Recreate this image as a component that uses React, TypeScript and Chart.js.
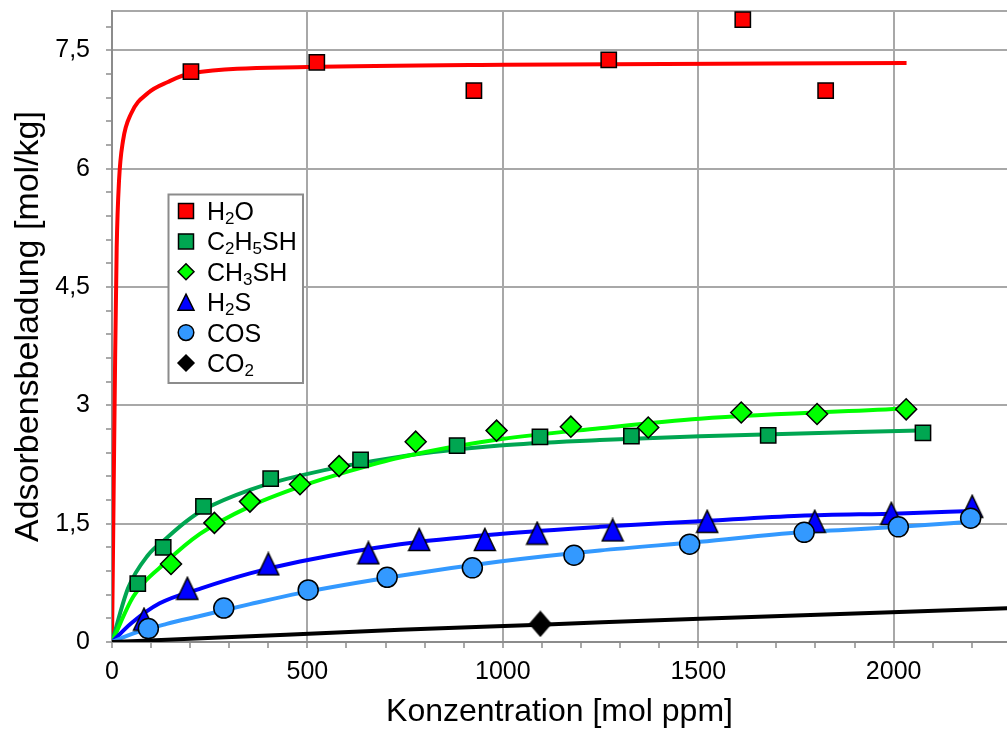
import React, { useEffect, useRef } from 'react';
import { Chart, registerables } from 'chart.js';

Chart.register(...registerables);

const FONT = '"Liberation Sans", Arial, Helvetica, sans-serif';

// ---------- data ----------
const SERIES_LABELS = ['H2O', 'C2H5SH', 'CH3SH', 'H2S', 'COS', 'CO2'];
const SERIES_COLORS = ['#FF0000', '#00A651', '#00FF00', '#0000FF', '#3399FF', '#000000'];
const FIT_COLORS = ['#FF0000', '#00A651', '#00FF00', '#0000FF', '#3399FF', '#000000'];
const SERIES_MARKERS = ['rect', 'rect', 'rectRot', 'triangle', 'circle', 'rectRot'];
const SERIES_RADII = [10.8, 10.8, 10.5, 12.5, 10, 11.5];

// measured points
const H2O_X = [202, 524, 926, 1271, 1614, 1826];
const H2O_Y = [7.23, 7.35, 6.99, 7.38, 7.89, 6.99];
const C2H5SH_X = [66, 131, 234, 406, 636, 883, 1095, 1329, 1679, 2075];
const C2H5SH_Y = [0.74, 1.2, 1.72, 2.07, 2.31, 2.49, 2.6, 2.61, 2.62, 2.65];
const CH3SH_X = [151, 262, 353, 481, 581, 777, 984, 1174, 1372, 1610, 1804, 2032];
const CH3SH_Y = [0.99, 1.51, 1.78, 2.0, 2.23, 2.54, 2.68, 2.73, 2.72, 2.91, 2.89, 2.95];
const H2S_X = [82, 193, 400, 656, 786, 954, 1088, 1281, 1523, 1798, 1994, 2201];
const H2S_Y = [0.29, 0.68, 0.99, 1.13, 1.3, 1.3, 1.38, 1.42, 1.53, 1.53, 1.63, 1.72];
const COS_X = [93, 286, 502, 704, 922, 1182, 1478, 1771, 2012, 2197];
const COS_Y = [0.17, 0.43, 0.66, 0.82, 0.94, 1.1, 1.24, 1.39, 1.46, 1.57];
const CO2_X = [1096];
const CO2_Y = [0.23];

// fitted curves
const H2O_FIT_X = [0, 4, 8, 12, 18, 28, 49, 92, 143, 202, 500, 1005, 2033];
const H2O_FIT_Y = [0, 1.8, 3.6, 5.0, 5.85, 6.35, 6.7, 6.96, 7.1, 7.21, 7.29, 7.32, 7.34];
const C2H5SH_FIT_X = [0, 41, 92, 140, 190, 235, 353, 481, 737, 992, 1248, 1504, 2066];
const C2H5SH_FIT_Y = [0, 0.68, 1.1, 1.32, 1.53, 1.68, 1.93, 2.11, 2.35, 2.49, 2.56, 2.61, 2.68];
const CH3SH_FIT_X = [0, 55, 140, 225, 353, 481, 609, 737, 992, 1248, 1504, 2032];
const CH3SH_FIT_Y = [0, 0.58, 1.02, 1.37, 1.72, 1.97, 2.17, 2.34, 2.57, 2.71, 2.83, 2.96];
const H2S_FIT_X = [0, 50, 122, 228, 353, 481, 737, 992, 1248, 1504, 1760, 2015, 2202];
const H2S_FIT_Y = [0, 0.24, 0.49, 0.68, 0.87, 1.02, 1.24, 1.37, 1.46, 1.53, 1.6, 1.63, 1.66];
const COS_FIT_X = [0, 55, 140, 225, 353, 481, 737, 992, 1248, 1504, 1760, 2015, 2211];
const COS_FIT_Y = [0, 0.11, 0.23, 0.33, 0.48, 0.62, 0.84, 1.02, 1.16, 1.27, 1.39, 1.46, 1.53];
const CO2_FIT_X = [0, 245, 737, 1096, 1504, 2300];
const CO2_FIT_Y = [0, 0.05, 0.155, 0.22, 0.295, 0.43];

const X_TICKS = [0, 100, 200, 300, 400, 500, 600, 700, 800, 900, 1000, 1100, 1200, 1300, 1400, 1500, 1600, 1700, 1800, 1900, 2000, 2100, 2200];
const X_LABELS = [0, 500, 1000, 1500, 2000];
const Y_TICKS = [0, 0.3, 0.6, 0.9, 1.2, 1.5, 1.8, 2.1, 2.4, 2.7, 3, 3.3, 3.6, 3.9, 4.2, 4.5, 4.8, 5.1, 5.4, 5.7, 6, 6.3, 6.6, 6.9, 7.2, 7.5, 7.8, 8];
const Y_LABELS = [0, 1.5, 3, 4.5, 6, 7.5];

const X_MIN = 0;
const X_MAX = 2290;
const Y_MIN = 0;
const Y_MAX = 8;

const X_TITLE = 'Konzentration [mol ppm]';
const Y_TITLE = 'Adsorbensbeladung [mol/kg]';

const GRID = '#A8A8A8';
const AXIS = '#8C8C8C';

// ---------- helpers ----------
const pts = (xs: number[], ys: number[]) => xs.map((x, i) => ({ x, y: ys[i] }));

function makeTriangle(w: number, h: number, fill: string) {
  const c = document.createElement('canvas');
  c.width = w + 3;
  c.height = h + 3;
  const g = c.getContext('2d')!;
  g.beginPath();
  g.moveTo(c.width / 2, 1.5);
  g.lineTo(w + 1.5, h + 1.5);
  g.lineTo(1.5, h + 1.5);
  g.closePath();
  g.fillStyle = fill;
  g.fill();
  g.lineWidth = 1.5;
  g.strokeStyle = '#000';
  g.stroke();
  return c;
}

function makeDiamond(w: number, h: number, fill: string) {
  const c = document.createElement('canvas');
  c.width = w + 3;
  c.height = h + 3;
  const g = c.getContext('2d')!;
  g.beginPath();
  g.moveTo(1.5, c.height / 2);
  g.lineTo(c.width / 2, 1.5);
  g.lineTo(w + 1.5, c.height / 2);
  g.lineTo(c.width / 2, h + 1.5);
  g.closePath();
  g.fillStyle = fill;
  g.fill();
  g.lineWidth = 1.5;
  g.strokeStyle = '#000';
  g.stroke();
  return c;
}

function drawMarker(ctx: CanvasRenderingContext2D, style: string, x: number, y: number, r: number, fill: string) {
  ctx.beginPath();
  if (style === 'rect') {
    ctx.rect(x - r, y - r, 2 * r, 2 * r);
  } else if (style === 'rectRot') {
    ctx.moveTo(x - r, y);
    ctx.lineTo(x, y - r);
    ctx.lineTo(x + r, y);
    ctx.lineTo(x, y + r);
    ctx.closePath();
  } else if (style === 'triangle') {
    ctx.moveTo(x, y - r);
    ctx.lineTo(x + r, y + r);
    ctx.lineTo(x - r, y + r);
    ctx.closePath();
  } else {
    ctx.arc(x, y, r, 0, Math.PI * 2);
  }
  ctx.fillStyle = fill;
  ctx.fill();
  ctx.lineWidth = 1.5;
  ctx.strokeStyle = '#000';
  ctx.stroke();
}

function drawFormula(ctx: CanvasRenderingContext2D, text: string, x: number, baseline: number) {
  const parts = text.split(/(\d+)/).filter((p) => p.length > 0);
  let cx = x;
  ctx.fillStyle = '#000';
  ctx.textAlign = 'left';
  ctx.textBaseline = 'alphabetic';
  for (const p of parts) {
    const sub = /^\d+$/.test(p);
    ctx.font = sub ? `17px ${FONT}` : `25px ${FONT}`;
    ctx.fillText(p, cx, sub ? baseline + 4 : baseline);
    cx += ctx.measureText(p).width;
  }
}

const legendPlugin = {
  id: 'formulaLegend',
  afterDraw(chart: any) {
    const ctx: CanvasRenderingContext2D = chart.ctx;
    ctx.save();
    const bx = 168.5, by = 194.5, bw = 134.5, bh = 188.5;
    ctx.fillStyle = '#FFFFFF';
    ctx.fillRect(bx, by, bw, bh);
    ctx.lineWidth = 2;
    ctx.strokeStyle = AXIS;
    ctx.strokeRect(bx, by, bw, bh);
    const legendR = [7.5, 7.5, 8, 8, 7.8, 8];
    SERIES_LABELS.forEach((label, i) => {
      const cy = 211 + i * 30.4;
      drawMarker(ctx, SERIES_MARKERS[i], 186, cy, legendR[i], SERIES_COLORS[i]);
      drawFormula(ctx, label, 207, cy + 9);
    });
    ctx.restore();
  },
};

export default function App() {
  const ref = useRef<HTMLCanvasElement>(null);

  useEffect(() => {
    document.body.style.margin = '0';
    const canvas = ref.current;
    if (!canvas) return;

    const markerData = [
      pts(H2O_X, H2O_Y),
      pts(C2H5SH_X, C2H5SH_Y),
      pts(CH3SH_X, CH3SH_Y),
      pts(H2S_X, H2S_Y),
      pts(COS_X, COS_Y),
      pts(CO2_X, CO2_Y),
    ];
    const fitData = [
      pts(H2O_FIT_X, H2O_FIT_Y),
      pts(C2H5SH_FIT_X, C2H5SH_FIT_Y),
      pts(CH3SH_FIT_X, CH3SH_FIT_Y),
      pts(H2S_FIT_X, H2S_FIT_Y),
      pts(COS_FIT_X, COS_FIT_Y),
      pts(CO2_FIT_X, CO2_FIT_Y),
    ];

    const pointStyles: any[] = [
      'rect',
      'rect',
      'rectRot',
      makeTriangle(21, 22, SERIES_COLORS[3]),
      'circle',
      makeDiamond(21, 24, SERIES_COLORS[5]),
    ];

    const fitSets = fitData.map((d, i) => ({
      label: SERIES_LABELS[i] + ' fit',
      data: d,
      borderColor: FIT_COLORS[i],
      backgroundColor: FIT_COLORS[i],
      borderWidth: 4,
      pointRadius: 0,
      fill: false,
      cubicInterpolationMode: 'monotone' as const,
      order: 20 - i,
    }));

    const markerSets = markerData.map((d, i) => ({
      label: SERIES_LABELS[i],
      data: d,
      showLine: false,
      pointStyle: pointStyles[i],
      pointRadius: SERIES_RADII[i],
      pointBackgroundColor: SERIES_COLORS[i],
      pointBorderColor: '#000000',
      pointBorderWidth: 1.5,
      borderColor: SERIES_COLORS[i],
      backgroundColor: SERIES_COLORS[i],
      clip: false as const,
      order: 6 - i,
    }));

    const isLabel = (arr: number[], v: number) => arr.some((a) => Math.abs(a - v) < 1e-9);

    const chart = new Chart(canvas, {
      type: 'line',
      data: { datasets: [...fitSets, ...markerSets] as any },
      options: {
        animation: false,
        responsive: false,
        devicePixelRatio: 1,
        events: [],
        layout: { autoPadding: false, padding: { top: 11, right: 0, bottom: 0, left: 0 } },
        plugins: {
          legend: { display: false },
          tooltip: { enabled: false },
        },
        scales: {
          x: {
            type: 'linear',
            position: 'bottom',
            min: X_MIN,
            max: X_MAX,
            afterBuildTicks: (scale: any) => {
              scale.ticks = X_TICKS.map((v) => ({ value: v }));
            },
            afterFit: (scale: any) => {
              scale.height = 89;
              scale.paddingLeft = 0;
              scale.paddingRight = 0;
            },
            ticks: {
              autoSkip: false,
              maxRotation: 0,
              minRotation: 0,
              padding: 9,
              color: '#000',
              font: { family: FONT, size: 25 },
              callback: (v: any) => (isLabel(X_LABELS, Number(v)) ? String(v) : ''),
            },
            grid: {
              color: (c: any) => {
                const v = c.tick ? c.tick.value : undefined;
                return v !== undefined && v !== 0 && isLabel(X_LABELS, v) ? GRID : 'rgba(0,0,0,0)';
              },
              lineWidth: 2,
              tickColor: AXIS,
              tickWidth: 1.5,
              tickLength: 6,
            },
            border: { color: AXIS, width: 2 },
            title: {
              display: true,
              text: X_TITLE,
              color: '#000',
              font: { family: FONT, size: 32 },
              padding: { top: 0, bottom: 0 },
            },
          },
          y: {
            type: 'linear',
            min: Y_MIN,
            max: Y_MAX,
            afterBuildTicks: (scale: any) => {
              scale.ticks = Y_TICKS.map((v) => ({ value: v }));
            },
            afterFit: (scale: any) => {
              scale.width = 112;
              scale.paddingTop = 0;
              scale.paddingBottom = 0;
            },
            ticks: {
              autoSkip: false,
              padding: 16,
              color: '#000',
              font: { family: FONT, size: 25 },
              callback: (v: any) => (isLabel(Y_LABELS, Number(v)) ? String(v).replace('.', ',') : ''),
            },
            grid: {
              color: (c: any) => {
                const v = c.tick ? c.tick.value : undefined;
                if (v === undefined || v === 0) return 'rgba(0,0,0,0)';
                return isLabel(Y_LABELS, v) || Math.abs(v - Y_MAX) < 1e-9 ? GRID : 'rgba(0,0,0,0)';
              },
              lineWidth: 2,
              tickColor: (c: any) => {
                const v = c.tick ? c.tick.value : undefined;
                return v !== undefined && Math.abs(v - Y_MAX) < 1e-9 ? 'rgba(0,0,0,0)' : AXIS;
              },
              tickWidth: 1.5,
              tickLength: 6,
            },
            border: { color: AXIS, width: 2 },
            title: {
              display: true,
              text: Y_TITLE,
              color: '#000',
              font: { family: FONT, size: 34 },
              padding: { top: 8, bottom: 0 },
            },
          },
        },
      },
      plugins: [legendPlugin],
    });

    return () => chart.destroy();
  }, []);

  return (
    <div style={{ width: 1007, height: 731 }}>
      <canvas ref={ref} width={1007} height={731} style={{ display: 'block', width: 1007, height: 731 }} />
    </div>
  );
}
